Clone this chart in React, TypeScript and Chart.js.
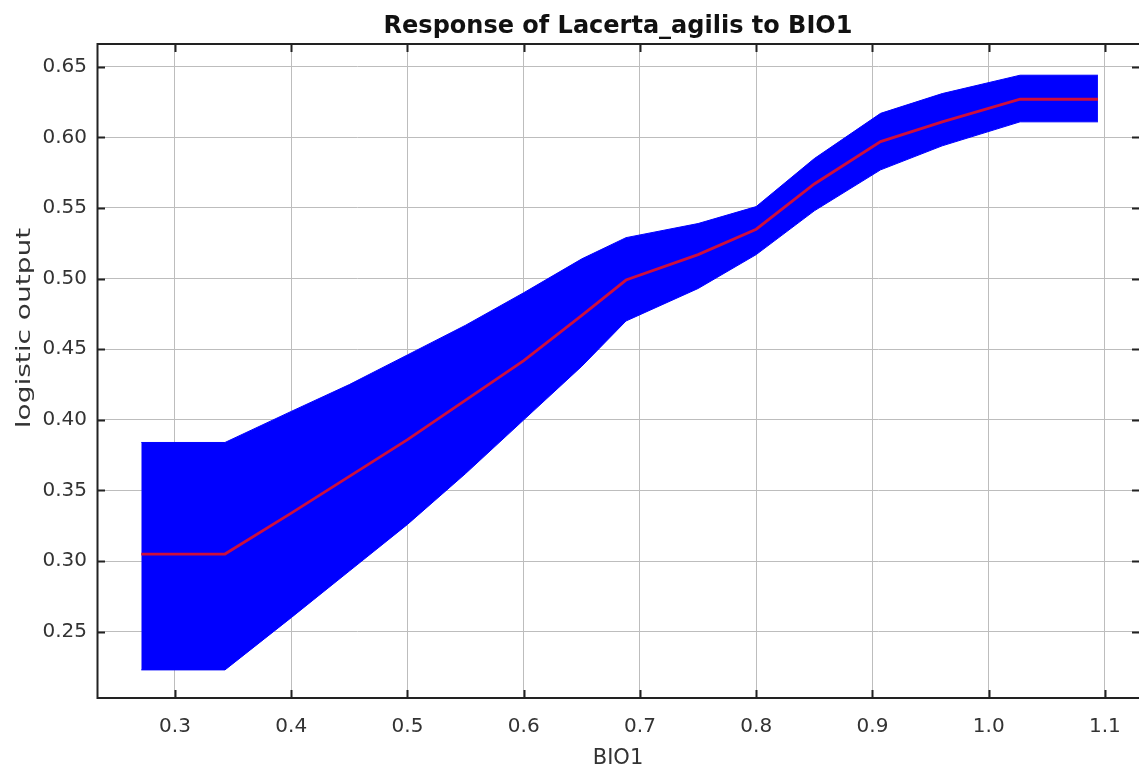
import React, { useEffect, useRef } from "react";
import { Chart, registerables } from "chart.js";

Chart.register(...registerables);

const chartTitle = "Response of Lacerta_agilis to BIO1";
const xAxisTitle = "BIO1";
const yAxisTitle = "logistic output";

const xValues = [0.271, 0.343, 0.40, 0.45, 0.50, 0.55, 0.60, 0.65, 0.688, 0.75, 0.80, 0.85, 0.907, 0.96, 1.027, 1.094];
const meanValues = [0.305, 0.305, 0.334, 0.360, 0.386, 0.414, 0.442, 0.474, 0.499, 0.517, 0.535, 0.567, 0.597, 0.611, 0.627, 0.627];
const upperValues = [0.384, 0.384, 0.406, 0.425, 0.446, 0.467, 0.490, 0.514, 0.529, 0.539, 0.551, 0.585, 0.617, 0.631, 0.644, 0.644];
const lowerValues = [0.223, 0.223, 0.260, 0.293, 0.326, 0.362, 0.400, 0.438, 0.470, 0.493, 0.517, 0.548, 0.577, 0.594, 0.611, 0.611];

const xTickValues = [0.3, 0.4, 0.5, 0.6, 0.7, 0.8, 0.9, 1.0, 1.1];
const yTickValues = [0.25, 0.3, 0.35, 0.4, 0.45, 0.5, 0.55, 0.6, 0.65];

const X_MIN = 0.2329;
const X_MAX = 1.1293;
const Y_MIN = 0.2031;
const Y_MAX = 0.6661;

const toPoints = (ys: number[]) => xValues.map((x, i) => ({ x, y: ys[i] }));

const framePlugin = {
  id: "frameTicks",
  afterDraw(chart: any) {
    const { ctx, chartArea, scales } = chart;
    const { left, right, top, bottom } = chartArea;
    ctx.save();
    ctx.strokeStyle = "#222";
    ctx.lineWidth = 2;
    ctx.strokeRect(left + 0.5, top, right - left + 2, bottom - top);
    ctx.lineWidth = 2;
    const tl = 8;
    ctx.beginPath();
    xTickValues.forEach((v) => {
      const px = Math.round(scales.x.getPixelForValue(v)) + 0.5;
      ctx.moveTo(px, bottom);
      ctx.lineTo(px, bottom - tl);
      ctx.moveTo(px, top);
      ctx.lineTo(px, top + tl);
    });
    yTickValues.forEach((v) => {
      const py = Math.round(scales.y.getPixelForValue(v)) + 0.5;
      ctx.moveTo(left, py);
      ctx.lineTo(left + tl, py);
      ctx.moveTo(right, py);
      ctx.lineTo(right - tl + 1, py);
    });
    ctx.stroke();

    // y axis title (stretched along its direction as in the reference)
    ctx.translate(25, 328);
    ctx.rotate(-Math.PI / 2);
    ctx.scale(1.4, 1);
    ctx.font = "20px 'DejaVu Sans'";
    ctx.fillStyle = "#333";
    ctx.textAlign = "center";
    ctx.textBaseline = "middle";
    ctx.fillText(yAxisTitle, 0, 0);
    ctx.restore();
  },
};

export default function App() {
  const canvasRef = useRef<HTMLCanvasElement | null>(null);

  useEffect(() => {
    if (!canvasRef.current) return;
    const chart = new Chart(canvasRef.current, {
      type: "line",
      data: {
        datasets: [
          {
            label: "mean",
            data: toPoints(meanValues),
            borderColor: "rgb(205, 15, 60)",
            borderWidth: 2.8,
            pointRadius: 0,
            fill: false,
            tension: 0,
            order: 0,
          },
          {
            label: "upper",
            data: toPoints(upperValues),
            borderColor: "#0000ff",
            backgroundColor: "#0000ff",
            borderWidth: 1,
            pointRadius: 0,
            fill: "+1",
            tension: 0,
            order: 1,
          },
          {
            label: "lower",
            data: toPoints(lowerValues),
            borderColor: "#0000ff",
            borderWidth: 1,
            pointRadius: 0,
            fill: false,
            tension: 0,
            order: 2,
          },
        ],
      },
      options: {
        responsive: false,
        animation: false,
        layout: { padding: { left: 0, right: 0, top: 0, bottom: 0 } },
        plugins: {
          legend: { display: false },
          tooltip: { enabled: false },
          title: {
            display: true,
            text: chartTitle,
            fullSize: false,
            color: "#111",
            font: { family: "'DejaVu Sans'", size: 24, weight: "bold" },
            padding: { top: 12, bottom: 3.2 },
          },
        },
        scales: {
          x: {
            type: "linear",
            min: X_MIN,
            max: X_MAX,
            afterBuildTicks: (scale: any) => {
              scale.ticks = xTickValues.map((v) => ({ value: v }));
            },
            afterFit: (scale: any) => {
              scale.height = 74;
            },
            grid: { color: "#bdbdbd", lineWidth: 1, drawTicks: false },
            border: { display: false },
            ticks: {
              padding: 17,
              color: "#333",
              font: { family: "'DejaVu Sans'", size: 20 },
              callback: (v: any) => Number(v).toFixed(1),
              maxRotation: 0,
            },
            title: {
              display: true,
              text: xAxisTitle,
              color: "#333",
              font: { family: "'DejaVu Sans'", size: 21 },
              padding: { top: 0, bottom: 1 },
            },
          },
          y: {
            type: "linear",
            min: Y_MIN,
            max: Y_MAX,
            afterBuildTicks: (scale: any) => {
              scale.ticks = yTickValues.map((v) => ({ value: v }));
            },
            afterFit: (scale: any) => {
              scale.width = 97;
            },
            grid: { color: "#bdbdbd", lineWidth: 1, drawTicks: false },
            border: { display: false },
            ticks: {
              padding: 10,
              color: "#333",
              font: { family: "'DejaVu Sans'", size: 20 },
              callback: (v: any) => Number(v).toFixed(2),
            },
          },
        },
      },
      plugins: [framePlugin],
    });
    return () => chart.destroy();
  }, []);

  return (
    <div style={{ position: "fixed", left: 0, top: 0, width: 1139, height: 772, background: "#fff" }}>
      <canvas ref={canvasRef} width={1139} height={772} />
    </div>
  );
}
